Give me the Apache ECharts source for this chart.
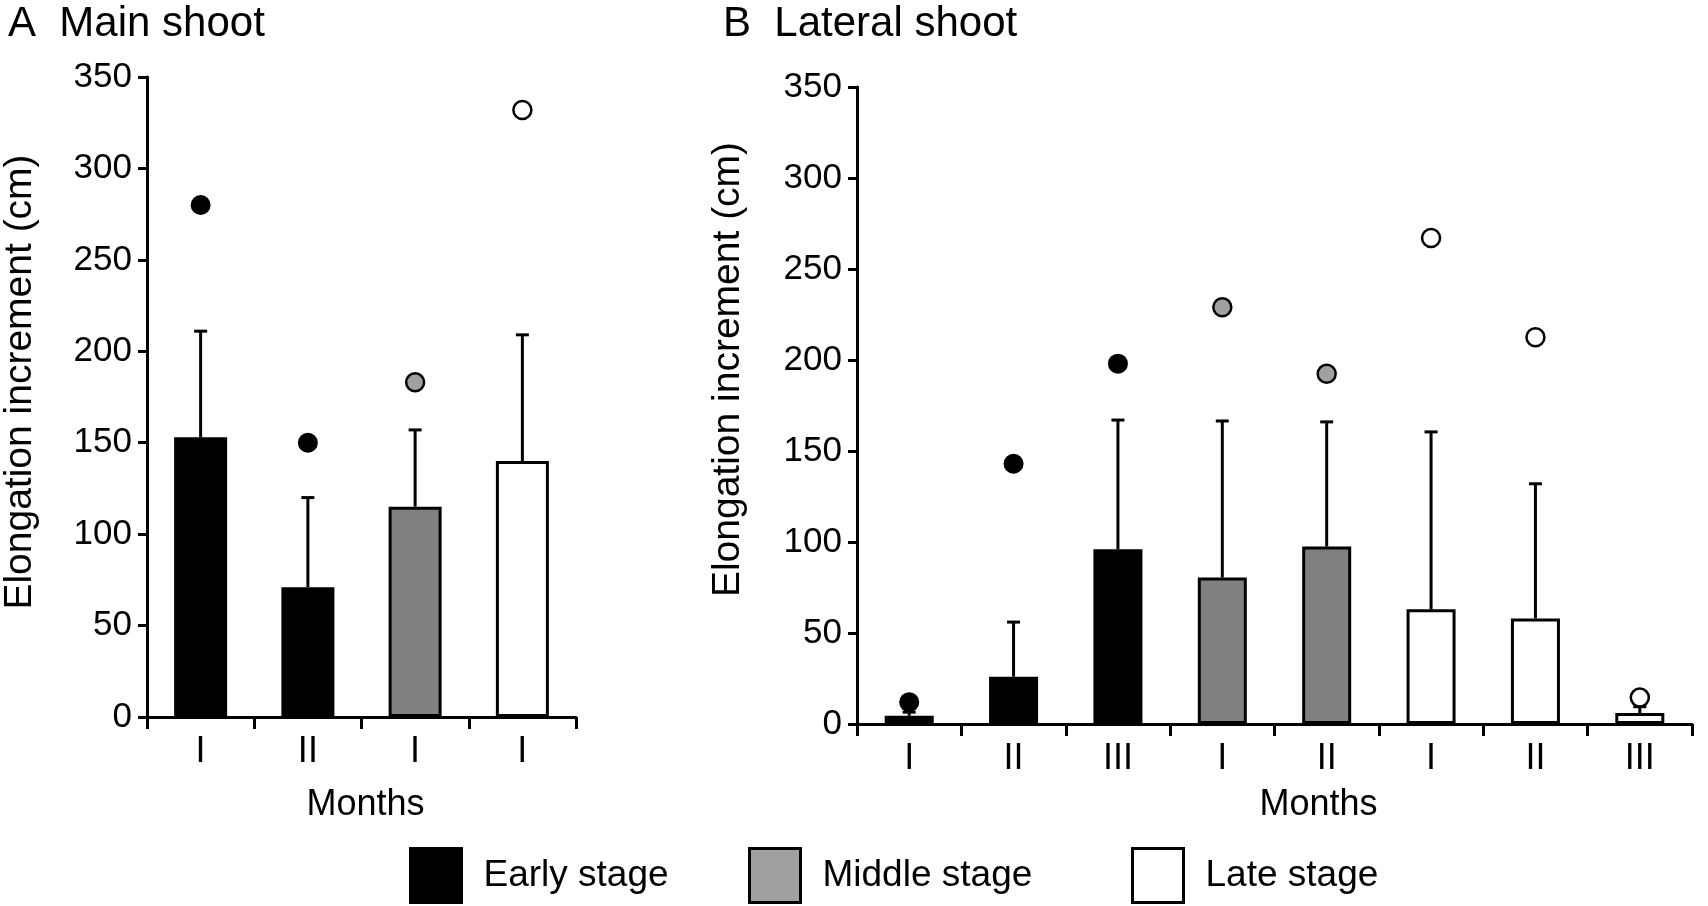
<!DOCTYPE html>
<html><head><meta charset="utf-8">
<script src="https://cdn.jsdelivr.net/npm/echarts@6/dist/echarts.min.js"></script>
<style>html,body{margin:0;padding:0;background:#fff}#c{width:1708px;height:906px}</style>
</head><body><div id="c"></div>
<script>
// ---- Data ----
const stageNames = ['Early stage', 'Middle stage', 'Late stage'];

const monthsA = ['I', 'II', 'I', 'I'];
const stageA = ['Early stage', 'Early stage', 'Middle stage', 'Late stage'];
const meanA = [153, 71, 115, 140];
const errTopA = [211, 120, 157, 209];
const maxA = [280, 150, 183, 332];

const monthsB = ['I', 'II', 'III', 'I', 'II', 'I', 'II', 'III'];
const stageB = ['Early stage', 'Early stage', 'Early stage', 'Middle stage', 'Middle stage', 'Late stage', 'Late stage', 'Late stage'];
const meanB = [4.5, 26, 96, 80.5, 97.5, 63, 58, 6];
const errTopB = [6.5, 56, 167, 166.5, 166, 160.5, 132, 9.5];
const maxB = [12, 143, 198, 229, 192.5, 267, 212.5, 14.5];

const panelTitles = ['A  Main shoot', 'B  Lateral shoot'];
const yAxisName = 'Elongation increment (cm)';
const xAxisName = 'Months';

// ---- Styles ----
const FONT = '"Liberation Sans", Arial, Helvetica, sans-serif';
const barColors = ['#000000', '#808080', '#ffffff'];
const dotColors = ['#000000', '#a0a0a0', '#ffffff'];
const legendColors = ['#000000', '#a0a0a0', '#ffffff'];

function panelSeries(p, stage, mean, errTop, maxv, barW) {
  const out = [];
  stageNames.forEach((s, k) => {
    out.push({
      type: 'bar', name: s, xAxisIndex: p, yAxisIndex: p,
      barWidth: barW, barGap: '-100%',
      itemStyle: { color: barColors[k], borderColor: '#000', borderWidth: 3 },
      data: mean.map((v, i) => stage[i] === s ? v : '-'),
      z: 2
    });
  });
  out.push({
    type: 'custom', name: 'err' + p, xAxisIndex: p, yAxisIndex: p,
    data: mean.map((v, i) => [i, v, errTop[i]]),
    renderItem: (params, api) => {
      const base = api.coord([api.value(0), api.value(1)]);
      const top = api.coord([api.value(0), api.value(2)]);
      const hw = 6.5;
      return {
        type: 'group', children: [
          { type: 'line', shape: { x1: base[0], y1: base[1], x2: top[0], y2: top[1] }, style: { stroke: '#000', lineWidth: 3 } },
          { type: 'line', shape: { x1: top[0] - hw, y1: top[1], x2: top[0] + hw, y2: top[1] }, style: { stroke: '#000', lineWidth: 3 } }
        ]
      };
    },
    z: 3
  });
  stageNames.forEach((s, k) => {
    out.push({
      type: 'scatter', name: s, xAxisIndex: p, yAxisIndex: p,
      symbol: 'circle', symbolSize: k === 0 ? 20 : 18,
      itemStyle: { color: dotColors[k], borderColor: '#000', borderWidth: k === 0 ? 0 : 2.5, opacity: 1 },
      data: maxv.map((v, i) => stage[i] === s ? [i, v] : null).filter(d => d !== null),
      z: 4
    });
  });
  return out;
}

function yAxisCfg(p, gap, shiftUp) {
  return {
    type: 'value', gridIndex: p, min: 0, max: 350, interval: 50,
    name: yAxisName, nameLocation: 'middle', nameGap: gap,
    nameTextStyle: { fontSize: 39, color: '#000', fontFamily: FONT, padding: [0, 0, 0, shiftUp * 2] },
    axisLine: { show: true, lineStyle: { color: '#000', width: 3 } },
    axisTick: { show: true, length: 9, lineStyle: { color: '#000', width: 3 } },
    axisLabel: { fontSize: 35, color: '#000', margin: 15, fontFamily: FONT },
    splitLine: { show: false }
  };
}
function xAxisCfg(p, cats, gap, shiftRight) {
  return {
    type: 'category', gridIndex: p, data: cats,
    name: xAxisName, nameLocation: 'middle', nameGap: gap,
    nameTextStyle: { fontSize: 36, color: '#000', fontFamily: FONT, padding: [0, 0, 0, shiftRight * 2] },
    axisLine: { show: true, lineStyle: { color: '#000', width: 3 } },
    axisTick: { show: true, length: 12, lineStyle: { color: '#000', width: 3 } },
    axisLabel: { fontSize: 36, color: '#000', margin: 17, fontFamily: FONT },
    splitLine: { show: false }
  };
}

const chart = echarts.init(document.getElementById('c'), null, { renderer: 'canvas' });
chart.setOption({
  animation: false,
  backgroundColor: '#fff',
  textStyle: { fontFamily: FONT, color: '#000' },
  title: [
    { text: panelTitles[0], left: 3, top: -2, textStyle: { fontSize: 42, fontWeight: 'normal', color: '#000', fontFamily: FONT } },
    { text: panelTitles[1], left: 718, top: -2, textStyle: { fontSize: 42, fontWeight: 'normal', color: '#000', fontFamily: FONT } }
  ],
  legend: stageNames.map((s, k) => ({
    data: [{ name: s, icon: 'rect', itemStyle: { color: legendColors[k], borderColor: '#000', borderWidth: 3 } }],
    left: [404, 743, 1126][k], top: 842,
    itemWidth: 51, itemHeight: 54, selectedMode: false,
    textStyle: { fontSize: 37, color: '#000', fontFamily: FONT, padding: [0, 0, 0, 17] }
  })),
  grid: [
    { left: 146, top: 77, width: 430, height: 640 },
    { left: 857, top: 87, width: 835, height: 637 }
  ],
  xAxis: [xAxisCfg(0, monthsA, 70, 4), xAxisCfg(1, monthsB, 63, 44)],
  yAxis: [yAxisCfg(0, 107, 15), yAxisCfg(1, 109, 36)],
  series: [].concat(
    panelSeries(0, stageA, meanA, errTopA, maxA, 53),
    panelSeries(1, stageB, meanB, errTopB, maxB, 49)
  )
});
</script>
</body></html>
